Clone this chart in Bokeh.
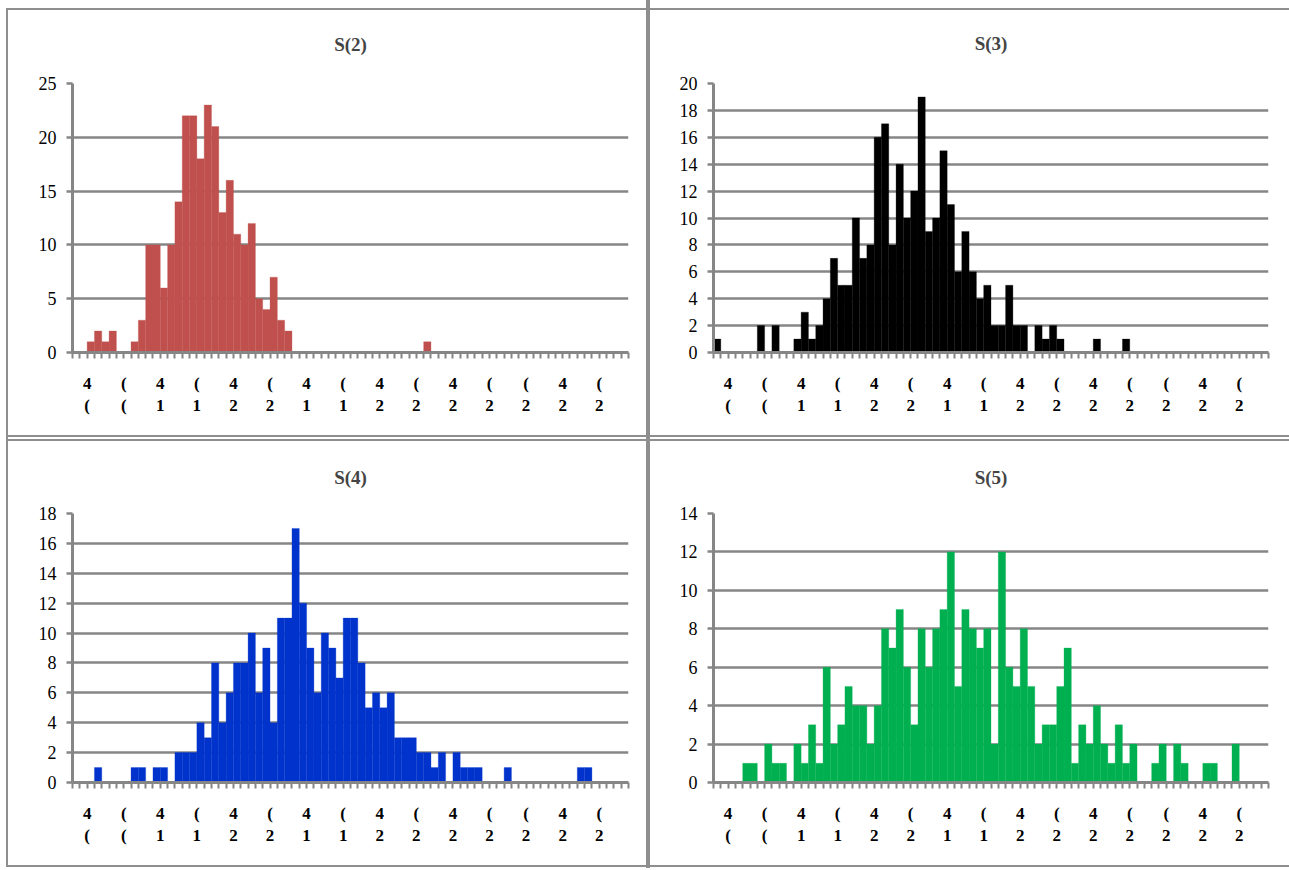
from bokeh.plotting import figure
from bokeh.layouts import gridplot
from bokeh.models import Range1d, FixedTicker
from bokeh.embed import file_html
from bokeh.resources import INLINE

N_BINS = 76

s2_counts = [0, 0, 1, 2, 1, 2, 0, 0, 1, 3, 10, 10, 6, 10, 14, 22, 22, 18, 23, 21,
             13, 16, 11, 10, 12, 5, 4, 7, 3, 2, 0, 0, 0, 0, 0, 0, 0, 0, 0, 0,
             0, 0, 0, 0, 0, 0, 0, 0, 1, 0, 0, 0, 0, 0, 0, 0, 0, 0, 0, 0,
             0, 0, 0, 0, 0, 0, 0, 0, 0, 0, 0, 0, 0, 0, 0, 0]

s3_counts = [1, 0, 0, 0, 0, 0, 2, 0, 2, 0, 0, 1, 3, 1, 2, 4, 7, 5, 5, 10,
             7, 8, 16, 17, 8, 14, 10, 12, 19, 9, 10, 15, 11, 6, 9, 6, 4, 5, 2, 2,
             5, 2, 2, 0, 2, 1, 2, 1, 0, 0, 0, 0, 1, 0, 0, 0, 1, 0, 0, 0,
             0, 0, 0, 0, 0, 0, 0, 0, 0, 0, 0, 0, 0, 0, 0, 0]

s4_counts = [0, 0, 0, 1, 0, 0, 0, 0, 1, 1, 0, 1, 1, 0, 2, 2, 2, 4, 3, 8,
             4, 6, 8, 8, 10, 6, 9, 4, 11, 11, 17, 12, 9, 6, 10, 9, 7, 11, 11, 8,
             5, 6, 5, 6, 3, 3, 3, 2, 2, 1, 2, 0, 2, 1, 1, 1, 0, 0, 0, 1,
             0, 0, 0, 0, 0, 0, 0, 0, 0, 1, 1, 0, 0, 0, 0, 0]

s5_counts = [0, 0, 0, 0, 1, 1, 0, 2, 1, 1, 0, 2, 1, 3, 1, 6, 2, 3, 5, 4,
             4, 2, 4, 8, 7, 9, 6, 3, 8, 6, 8, 9, 12, 5, 9, 8, 7, 8, 2, 12,
             6, 5, 8, 5, 2, 3, 3, 5, 7, 1, 3, 2, 4, 2, 1, 3, 1, 2, 0, 0,
             1, 2, 0, 2, 1, 0, 0, 1, 1, 0, 0, 2, 0, 0, 0, 0]

titles = ["S(2)", "S(3)", "S(4)", "S(5)"]
colors = ["#C0504D", "#000000", "#0033CC", "#00B050"]
y_max = [25, 20, 18, 14]
y_step = [5, 2, 2, 2]

# clipped category labels (as they appear, every 5th bin boundary)
x_label_pos = [2, 7, 12, 17, 22, 27, 32, 37, 42, 47, 52, 57, 62, 67, 72]
x_labels = ["4\n(", "(\n(", "4\n1", "(\n1", "4\n2", "(\n2", "4\n1", "(\n1",
            "4\n2", "(\n2", "4\n2", "(\n2", "(\n2", "4\n2", "(\n2"]

GRID = "#868686"
BORDER = "#8e8e8e"
FONT = "Liberation Serif"


def panel_lines(lines):
    # lines: list of (x, y, w, h) rectangles in figure pixels
    imgs = ", ".join([f"linear-gradient({BORDER}, {BORDER})"] * len(lines))
    pos = ", ".join(f"{x}px {y}px" for x, y, w, h in lines)
    size = ", ".join(f"{w}px {h}px" for x, y, w, h in lines)
    rep = ", ".join(["no-repeat"] * len(lines))
    return {"background-image": imgs, "background-position": pos,
            "background-size": size, "background-repeat": rep}


def make(title, counts, color, ymax, ystep, w, h, borders, lines, standoff):
    bl, br, bt, bb = borders
    p = figure(width=w, height=h, output_backend="svg", toolbar_location=None,
               x_range=Range1d(0, N_BINS), y_range=Range1d(0, ymax),
               min_border_left=bl, min_border_right=br,
               min_border_top=bt, min_border_bottom=bb,
               background_fill_color="white", border_fill_color=None)
    p.title.text = title
    p.title.align = "center"
    p.title.text_font = FONT
    p.title.text_font_size = "19px"
    p.title.text_font_style = "bold"
    p.title.standoff = standoff
    p.outline_line_color = None
    p.styles = panel_lines(lines)

    centers = [i + 0.5 for i in range(len(counts))]
    p.vbar(x=centers, top=counts, width=1.0, fill_color=color, line_color=color,
           line_width=0.3)

    p.xgrid.visible = False
    p.ygrid.grid_line_color = GRID
    p.ygrid.grid_line_width = 2.5
    p.ygrid.ticker = FixedTicker(ticks=list(range(0, ymax + 1, ystep)))

    ya = p.yaxis[0]
    ya.ticker = FixedTicker(ticks=list(range(0, ymax + 1, ystep)))
    ya.axis_line_color = GRID
    ya.axis_line_width = 3
    ya.major_tick_line_color = GRID
    ya.major_tick_line_width = 2.5
    ya.major_tick_out = 6
    ya.major_tick_in = 0
    ya.minor_tick_line_color = None
    ya.major_label_text_font = FONT
    ya.major_label_text_font_size = "18px"
    ya.major_label_text_color = "black"
    ya.major_label_standoff = 10

    xa = p.xaxis[0]
    xa.ticker = FixedTicker(ticks=list(range(0, N_BINS + 1)))
    overrides = {t: "" for t in range(0, N_BINS + 1)}
    for pos, lab in zip(x_label_pos, x_labels):
        overrides[pos] = lab
    xa.major_label_overrides = overrides
    xa.axis_line_color = GRID
    xa.axis_line_width = 3
    xa.major_tick_line_color = GRID
    xa.major_tick_line_width = 2
    xa.major_tick_out = 6
    xa.major_tick_in = 0
    xa.minor_tick_line_color = None
    xa.major_label_text_font = FONT
    xa.major_label_text_font_size = "17px"
    xa.major_label_text_font_style = "bold"
    xa.major_label_text_color = "black"
    xa.major_label_standoff = 15
    return p


specs = [
    # width, height, (left, right, top, bottom), border lines, title standoff
    (648, 438, (72, 20, 82, 86), [(6, 8, 2, 430), (6, 8, 642, 2), (646, 0, 2, 438), (6, 435, 642, 2)], 58),
    (641, 438, (65, 21, 83, 86), [(0, 0, 2, 438), (0, 8, 641, 2), (0, 435, 641, 2)], 60),
    (648, 430, (72, 20, 75, 86), [(6, 0, 2, 429), (6, 1, 642, 2), (646, 0, 2, 430), (6, 427, 642, 2)], 52),
    (641, 430, (65, 19, 75, 86), [(0, 0, 2, 430), (0, 1, 641, 2), (0, 427, 641, 2)], 52),
]

all_counts = [s2_counts, s3_counts, s4_counts, s5_counts]
figs = []
for i in range(4):
    w, h, b, lines, so = specs[i]
    figs.append(make(titles[i], all_counts[i], colors[i], y_max[i], y_step[i], w, h, b, lines, so))

grid = gridplot([[figs[0], figs[1]], [figs[2], figs[3]]], toolbar_location=None)

open("out.html", "w").write(file_html(grid, INLINE))
